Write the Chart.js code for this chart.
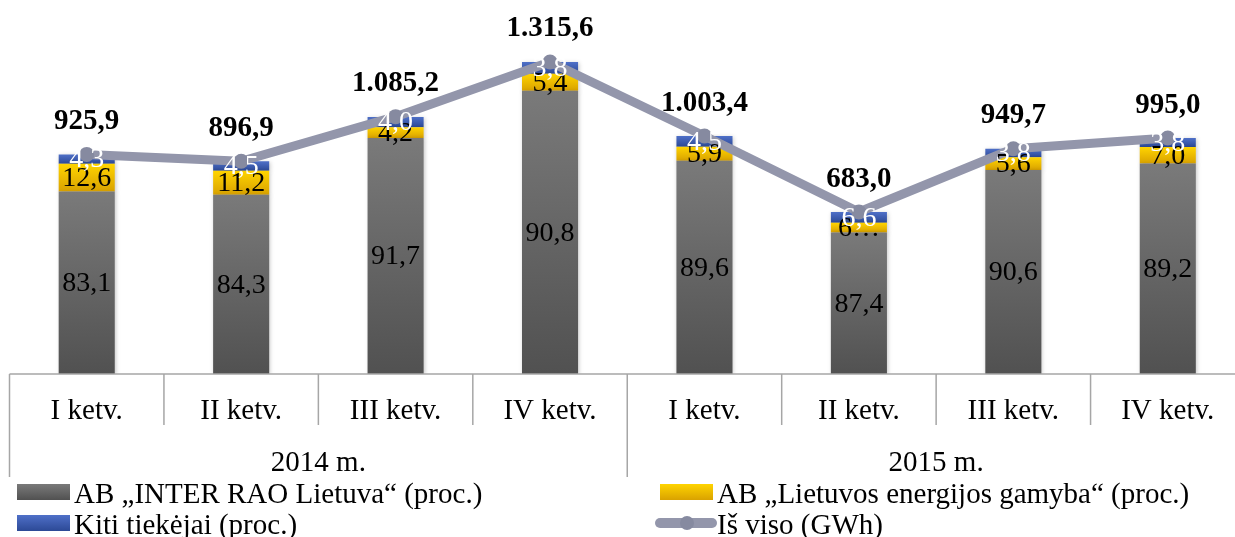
<!DOCTYPE html>
<html>
<head>
<meta charset="utf-8">
<script src="https://cdn.jsdelivr.net/npm/chart.js@4"></script>
<style>
  html, body { margin: 0; padding: 0; background: #fff; overflow: hidden; }
  #wrap { width: 1235px; height: 537px; overflow: hidden; }
</style>
</head>
<body>
<div id="wrap"><canvas id="chart" width="1245" height="537"></canvas></div>
<script>
// quarters and years
const quarters = ['I ketv.', 'II ketv.', 'III ketv.', 'IV ketv.', 'I ketv.', 'II ketv.', 'III ketv.', 'IV ketv.'];
const years = ['2014 m.', '2015 m.'];
const quartersPerYear = 4;

// shares in percent
const interRao = [83.1, 84.3, 91.7, 90.8, 89.6, 87.4, 90.6, 89.2];
const leg = [12.6, 11.2, 4.2, 5.4, 5.9, 6.0, 5.6, 7.0];
const others = [4.3, 4.5, 4.0, 3.8, 4.5, 6.6, 3.8, 3.8];

// total in GWh
const totals = [925.9, 896.9, 1085.2, 1315.6, 1003.4, 683.0, 949.7, 995.0];

const seriesNames = ['AB „INTER RAO Lietuva“ (proc.)', 'AB „Lietuvos energijos gamyba“ (proc.)', 'Kiti tiekėjai (proc.)', 'Iš viso (GWh)'];

const FONT = "'Liberation Serif', 'Times New Roman', serif";
const shares = [interRao, leg, others];

// bar segment heights are the share of the quarter total
function toGWh(pcts) {
    return pcts.map((p, i) => p / 100 * totals[i]);
}

const gradColors = [
    ['#7a7a7a', '#515151'],
    ['#ffd400', '#d9a200'],
    ['#4f70c8', '#2c4996']
];

function barGradient(dsIndex) {
    return function (ctx) {
        const chart = ctx.chart;
        const y = chart.scales.y;
        if (!chart.chartArea || ctx.type !== 'data' || !y) return gradColors[dsIndex][1];
        const i = ctx.dataIndex;
        let bottom = 0;
        for (let k = 0; k < dsIndex; k++) bottom += shares[k][i] / 100 * totals[i];
        const top = bottom + shares[dsIndex][i] / 100 * totals[i];
        const y0 = y.getPixelForValue(top);
        const y1 = y.getPixelForValue(bottom);
        if (!isFinite(y0) || !isFinite(y1) || y0 === y1) return gradColors[dsIndex][1];
        const g = chart.ctx.createLinearGradient(0, y0, 0, y1);
        g.addColorStop(0, gradColors[dsIndex][0]);
        g.addColorStop(1, gradColors[dsIndex][1]);
        return g;
    };
}

function fmt(v, decimals) {
    let s = v.toFixed(decimals);
    let [a, b] = s.split('.');
    a = a.replace(/\B(?=(\d{3})+(?!\d))/g, '.');
    return b ? a + ',' + b : a;
}

// data labels, x-axis with year groups, custom legend
const decorPlugin = {
    id: 'decor',
    beforeDatasetDraw(chart, args) {
        if (args.index < 3) {
            const ctx = chart.ctx;
            ctx.save();
            ctx.shadowColor = 'rgba(0,0,0,0.22)';
            ctx.shadowBlur = 4;
            ctx.shadowOffsetX = 1;
            ctx.shadowOffsetY = 1;
        }
    },
    afterDatasetDraw(chart, args) {
        if (args.index < 3) chart.ctx.restore();
    },
    afterDatasetsDraw(chart) {
        const ctx = chart.ctx;
        ctx.save();
        ctx.textAlign = 'center';
        ctx.textBaseline = 'middle';
        ctx.font = '28px ' + FONT;
        for (let d = 0; d < 3; d++) {
            const meta = chart.getDatasetMeta(d);
            meta.data.forEach((el, i) => {
                const h = Math.abs(el.base - el.y);
                let txt = fmt(shares[d][i], 1);
                if (d === 1 && h < 10) txt = txt.charAt(0) + '…';
                ctx.fillStyle = d === 2 ? '#ffffff' : '#000000';
                ctx.fillText(txt, el.x, (el.y + el.base) / 2 + 1);
            });
        }
        const lineMeta = chart.getDatasetMeta(3);
        ctx.font = 'bold 29px ' + FONT;
        ctx.fillStyle = '#000';
        lineMeta.data.forEach((pt, i) => {
            ctx.fillText(fmt(totals[i], 1), pt.x, pt.y - 33);
        });
        ctx.restore();
    },
    afterDraw(chart) {
        const ctx = chart.ctx;
        const x = chart.scales.x;
        const area = chart.chartArea;
        const axisY = area.bottom;
        const step = x.getPixelForValue(1) - x.getPixelForValue(0);
        ctx.save();
        ctx.strokeStyle = '#a6a6a6';
        ctx.lineWidth = 1.5;
        ctx.beginPath();
        ctx.moveTo(area.left, axisY);
        ctx.lineTo(area.right, axisY);
        for (let i = 0; i <= quarters.length; i++) {
            const px = x.getPixelForValue(0) - step / 2 + i * step;
            const long = i % quartersPerYear === 0;
            ctx.moveTo(px, axisY);
            ctx.lineTo(px, long ? axisY + 103 : axisY + 51);
        }
        ctx.stroke();

        ctx.fillStyle = '#000';
        ctx.textAlign = 'center';
        ctx.textBaseline = 'middle';
        ctx.font = '29px ' + FONT;
        quarters.forEach((q, i) => ctx.fillText(q, x.getPixelForValue(i), axisY + 37));
        years.forEach((yr, j) => {
            const a = x.getPixelForValue(j * quartersPerYear);
            const b = x.getPixelForValue(j * quartersPerYear + quartersPerYear - 1);
            ctx.fillText(yr, (a + b) / 2, axisY + 89);
        });

        // legend
        const items = [
            { x: 17, y: 492, kind: 0 },
            { x: 660, y: 492, kind: 1 },
            { x: 17, y: 523, kind: 2 },
            { x: 660, y: 523, kind: 3 }
        ];
        ctx.textAlign = 'left';
        items.forEach((it) => {
            if (it.kind < 3) {
                const g = ctx.createLinearGradient(0, it.y - 8, 0, it.y + 8);
                g.addColorStop(0, gradColors[it.kind][0]);
                g.addColorStop(1, gradColors[it.kind][1]);
                ctx.fillStyle = g;
                ctx.fillRect(it.x, it.y - 8, 53, 16);
            } else {
                ctx.strokeStyle = '#9396ab';
                ctx.lineWidth = 10;
                ctx.lineCap = 'round';
                ctx.beginPath();
                ctx.moveTo(it.x, it.y);
                ctx.lineTo(it.x + 52, it.y);
                ctx.stroke();
                ctx.fillStyle = '#868aa0';
                ctx.beginPath();
                ctx.arc(it.x + 27, it.y, 7, 0, Math.PI * 2);
                ctx.fill();
            }
            ctx.fillStyle = '#000';
            ctx.fillText(seriesNames[it.kind], it.x + 57, it.y + 3);
        });
        ctx.restore();
    }
};

new Chart(document.getElementById('chart'), {
    data: {
        labels: quarters,
        datasets: [
            { type: 'bar', label: seriesNames[0], data: toGWh(interRao), backgroundColor: barGradient(0), order: 1, stack: 'shares' },
            { type: 'bar', label: seriesNames[1], data: toGWh(leg), backgroundColor: barGradient(1), order: 1, stack: 'shares' },
            { type: 'bar', label: seriesNames[2], data: toGWh(others), backgroundColor: barGradient(2), order: 1, stack: 'shares' },
            {
                type: 'line', label: seriesNames[3], data: totals, stack: 'total', order: 0,
                borderColor: '#9396ab', borderWidth: 9, backgroundColor: '#868aa0',
                pointRadius: 7.5, pointBackgroundColor: '#868aa0', pointBorderWidth: 0,
                tension: 0, borderCapStyle: 'round', borderJoinStyle: 'round', clip: false
            }
        ]
    },
    options: {
        responsive: false,
        animation: false,
        devicePixelRatio: 1,
        layout: { autoPadding: false, padding: { left: 9.5, right: 0, top: 0, bottom: 163 } },
        datasets: { bar: { barPercentage: 0.363, categoryPercentage: 1 } },
        scales: {
            x: { display: false, stacked: true },
            y: { display: false, stacked: true, min: 0, max: 1577 }
        },
        plugins: {
            legend: { display: false },
            tooltip: { enabled: false }
        }
    },
    plugins: [decorPlugin]
});
</script>
</body>
</html>
